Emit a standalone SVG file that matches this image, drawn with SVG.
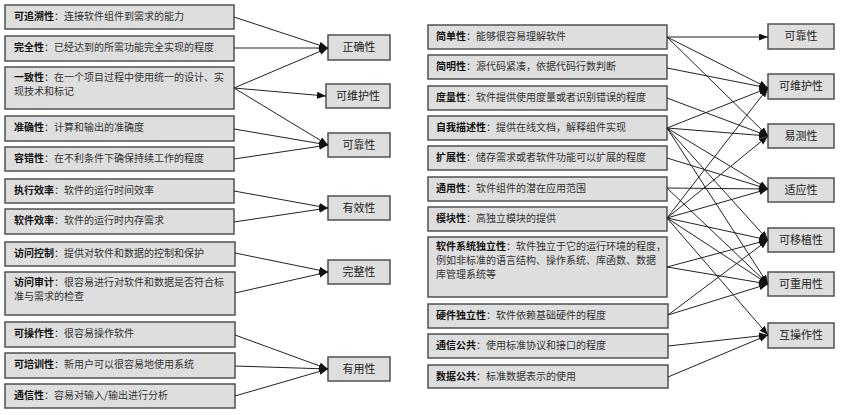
<svg xmlns="http://www.w3.org/2000/svg" width="844" height="415" viewBox="0 0 844 415">
<style>
.b{fill:#dedede;stroke:#505050;stroke-width:1.5}
.t{font-family:"Noto Sans CJK SC","Noto Sans",sans-serif;font-size:10px;fill:#333}
.t .k{font-weight:bold;fill:#111}
.q{font-family:"Noto Sans CJK SC","Noto Sans",sans-serif;font-size:11px;fill:#222;text-anchor:middle}
.c line{stroke:#222;stroke-width:1;marker-end:url(#a)}
</style>
<defs>
<marker id="a" markerUnits="userSpaceOnUse" markerWidth="10" markerHeight="8" refX="9" refY="3.5" orient="auto">
<path d="M0,0 L9,3.5 L0,7 z" fill="#111"/>
</marker>
</defs>
<rect width="844" height="415" fill="#fff"/>

<!-- left criteria -->
<g id="l1"><rect class="b" x="5" y="5" width="229" height="24"/><text class="t" x="14" y="20"><tspan class="k">可追溯性</tspan>：连接软件组件到需求的能力</text></g>
<g id="l2"><rect class="b" x="5" y="36" width="229" height="25"/><text class="t" x="14" y="51"><tspan class="k">完全性</tspan>：已经达到的所需功能完全实现的程度</text></g>
<g id="l3"><rect class="b" x="5" y="67" width="229" height="42"/><text class="t" x="14" y="81"><tspan class="k">一致性</tspan>：在一个项目过程中使用统一的设计、实</text><text class="t" x="14" y="95">现技术和标记</text></g>
<g id="l4"><rect class="b" x="5" y="116" width="229" height="25"/><text class="t" x="14" y="131"><tspan class="k">准确性</tspan>：计算和输出的准确度</text></g>
<g id="l5"><rect class="b" x="5" y="147" width="229" height="24"/><text class="t" x="14" y="162"><tspan class="k">容错性</tspan>：在不利条件下确保持续工作的程度</text></g>
<g id="l6"><rect class="b" x="5" y="179" width="229" height="24"/><text class="t" x="14" y="194"><tspan class="k">执行效率</tspan>：软件的运行时间效率</text></g>
<g id="l7"><rect class="b" x="5" y="209" width="229" height="25"/><text class="t" x="14" y="224"><tspan class="k">软件效率</tspan>：软件的运行时内存需求</text></g>
<g id="l8"><rect class="b" x="5" y="242" width="230" height="24"/><text class="t" x="14" y="257"><tspan class="k">访问控制</tspan>：提供对软件和数据的控制和保护</text></g>
<g id="l9"><rect class="b" x="5" y="272" width="230" height="43"/><text class="t" x="14" y="286"><tspan class="k">访问审计</tspan>：很容易进行对软件和数据是否符合标</text><text class="t" x="14" y="300">准与需求的检查</text></g>
<g id="l10"><rect class="b" x="5" y="322" width="230" height="25"/><text class="t" x="14" y="337"><tspan class="k">可操作性</tspan>：很容易操作软件</text></g>
<g id="l11"><rect class="b" x="5" y="353" width="230" height="25"/><text class="t" x="14" y="368"><tspan class="k">可培训性</tspan>：新用户可以很容易地使用系统</text></g>
<g id="l12"><rect class="b" x="5" y="384" width="230" height="24"/><text class="t" x="14" y="399"><tspan class="k">通信性</tspan>：容易对输入/输出进行分析</text></g>

<!-- middle factors -->
<g id="m1"><rect class="b" x="328" y="35" width="62" height="25"/><text class="q" x="359" y="51">正确性</text></g>
<g id="m2"><rect class="b" x="326" y="84" width="64" height="24"/><text class="q" x="358" y="100">可维护性</text></g>
<g id="m3"><rect class="b" x="328" y="133" width="62" height="24"/><text class="q" x="359" y="149">可靠性</text></g>
<g id="m4"><rect class="b" x="328" y="196" width="62" height="24"/><text class="q" x="359" y="212">有效性</text></g>
<g id="m5"><rect class="b" x="328" y="260" width="62" height="24"/><text class="q" x="359" y="276">完整性</text></g>
<g id="m6"><rect class="b" x="328" y="357" width="62" height="24"/><text class="q" x="359" y="373">有用性</text></g>

<!-- right criteria -->
<g id="r1"><rect class="b" x="428" y="25" width="239" height="24"/><text class="t" x="436" y="40"><tspan class="k">简单性</tspan>：能够很容易理解软件</text></g>
<g id="r2"><rect class="b" x="428" y="55" width="239" height="24"/><text class="t" x="436" y="70"><tspan class="k">简明性</tspan>：源代码紧凑，依据代码行数判断</text></g>
<g id="r3"><rect class="b" x="428" y="86" width="239" height="24"/><text class="t" x="436" y="101"><tspan class="k">度量性</tspan>：软件提供使用度量或者识别错误的程度</text></g>
<g id="r4"><rect class="b" x="428" y="116" width="239" height="24"/><text class="t" x="436" y="131"><tspan class="k">自我描述性</tspan>：提供在线文档，解释组件实现</text></g>
<g id="r5"><rect class="b" x="428" y="146" width="239" height="24"/><text class="t" x="436" y="161"><tspan class="k">扩展性</tspan>：储存需求或者软件功能可以扩展的程度</text></g>
<g id="r6"><rect class="b" x="428" y="177" width="239" height="24"/><text class="t" x="436" y="192"><tspan class="k">通用性</tspan>：软件组件的潜在应用范围</text></g>
<g id="r7"><rect class="b" x="428" y="207" width="239" height="24"/><text class="t" x="436" y="222"><tspan class="k">模块性</tspan>：高独立模块的提供</text></g>
<g id="r8"><rect class="b" x="428" y="237" width="239" height="60"/><text class="t" x="436" y="250"><tspan class="k">软件系统独立性</tspan>：软件独立于它的运行环境的程度，</text><text class="t" x="436" y="264">例如非标准的语言结构、操作系统、库函数、数据</text><text class="t" x="436" y="278">库管理系统等</text></g>
<g id="r9"><rect class="b" x="428" y="304" width="240" height="24"/><text class="t" x="436" y="319"><tspan class="k">硬件独立性</tspan>：软件依赖基础硬件的程度</text></g>
<g id="r10"><rect class="b" x="428" y="334" width="240" height="24"/><text class="t" x="436" y="349"><tspan class="k">通信公共</tspan>：使用标准协议和接口的程度</text></g>
<g id="r11"><rect class="b" x="428" y="365" width="240" height="23"/><text class="t" x="436" y="380"><tspan class="k">数据公共</tspan>：标准数据表示的使用</text></g>

<!-- far right factors -->
<g id="f1"><rect class="b" x="768" y="24" width="66" height="25"/><text class="q" x="801" y="40">可靠性</text></g>
<g id="f2"><rect class="b" x="768" y="74" width="66" height="25"/><text class="q" x="801" y="90">可维护性</text></g>
<g id="f3"><rect class="b" x="768" y="124" width="66" height="24"/><text class="q" x="801" y="140">易测性</text></g>
<g id="f4"><rect class="b" x="768" y="178" width="66" height="24"/><text class="q" x="801" y="194">适应性</text></g>
<g id="f5"><rect class="b" x="768" y="228" width="66" height="24"/><text class="q" x="801" y="244">可移植性</text></g>
<g id="f6"><rect class="b" x="768" y="272" width="66" height="24"/><text class="q" x="801" y="288">可重用性</text></g>
<g id="f7"><rect class="b" x="768" y="323" width="66" height="25"/><text class="q" x="801" y="339">互操作性</text></g>

<g id="connectors" class="c">
<line x1="234" y1="17" x2="328" y2="48"/>
<line x1="234" y1="48" x2="328" y2="48"/>
<line x1="234" y1="88" x2="328" y2="48"/>
<line x1="234" y1="88" x2="326" y2="96"/>
<line x1="234" y1="88" x2="328" y2="145"/>
<line x1="234" y1="129" x2="328" y2="145"/>
<line x1="234" y1="159" x2="328" y2="145"/>
<line x1="234" y1="191" x2="328" y2="208"/>
<line x1="234" y1="222" x2="328" y2="208"/>
<line x1="235" y1="253" x2="328" y2="272"/>
<line x1="235" y1="293" x2="328" y2="272"/>
<line x1="235" y1="335" x2="328" y2="369"/>
<line x1="235" y1="366" x2="328" y2="369"/>
<line x1="235" y1="396" x2="328" y2="369"/>

<line x1="667" y1="37" x2="768" y2="37"/>
<line x1="667" y1="37" x2="768" y2="88"/>
<line x1="667" y1="37" x2="768" y2="136"/>
<line x1="667" y1="68" x2="768" y2="88"/>
<line x1="667" y1="98" x2="768" y2="136"/>
<line x1="667" y1="128" x2="768" y2="88"/>
<line x1="667" y1="128" x2="768" y2="136"/>
<line x1="667" y1="128" x2="768" y2="189"/>
<line x1="667" y1="128" x2="768" y2="240"/>
<line x1="667" y1="128" x2="768" y2="284"/>
<line x1="667" y1="158" x2="768" y2="189"/>
<line x1="667" y1="188" x2="768" y2="189"/>
<line x1="667" y1="188" x2="768" y2="284"/>
<line x1="667" y1="218" x2="768" y2="88"/>
<line x1="667" y1="218" x2="768" y2="136"/>
<line x1="667" y1="218" x2="768" y2="189"/>
<line x1="667" y1="218" x2="768" y2="240"/>
<line x1="667" y1="218" x2="768" y2="284"/>
<line x1="667" y1="218" x2="768" y2="335"/>
<line x1="667" y1="267" x2="768" y2="240"/>
<line x1="667" y1="267" x2="768" y2="284"/>
<line x1="668" y1="315" x2="768" y2="240"/>
<line x1="668" y1="315" x2="768" y2="284"/>
<line x1="668" y1="346" x2="768" y2="335"/>
<line x1="668" y1="377" x2="768" y2="335"/>
</g>
</svg>
